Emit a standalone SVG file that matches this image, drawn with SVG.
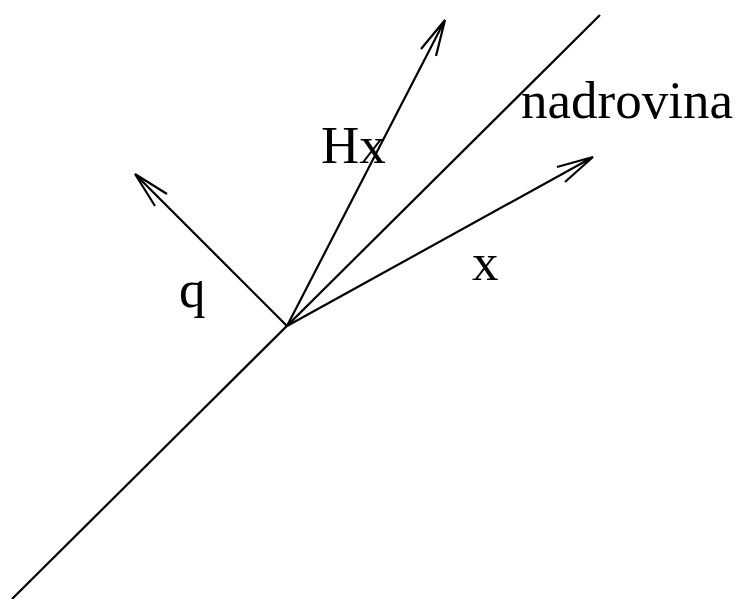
<svg xmlns="http://www.w3.org/2000/svg" width="744" height="599" viewBox="0 0 744 599">
<style>
.l{stroke:#000;stroke-width:2.2;fill:none;stroke-linecap:butt}
text{font-family:"Liberation Serif","Times New Roman",serif;font-size:53px;fill:#000}
</style>
<rect width="744" height="599" fill="#fff"/>
<g id="connectors">
<path class="l" d="M12,599 L600,15"/>
<path class="l" d="M287,326 L445,20 M421,49 L445,20 L436,56"/>
<path class="l" d="M287,326 L135,174 M167,194 L135,174 L155,206"/>
<path class="l" d="M287,326 L593,157 M557,167 L593,157 L565,182"/>
</g>
<g id="label-nadrovina"><text x="521" y="118">nadrovina</text></g>
<g id="label-Hx"><text x="321" y="163">Hx</text></g>
<g id="label-q"><text x="179" y="307">q</text></g>
<g id="label-x"><text x="472" y="280">x</text></g>
</svg>
